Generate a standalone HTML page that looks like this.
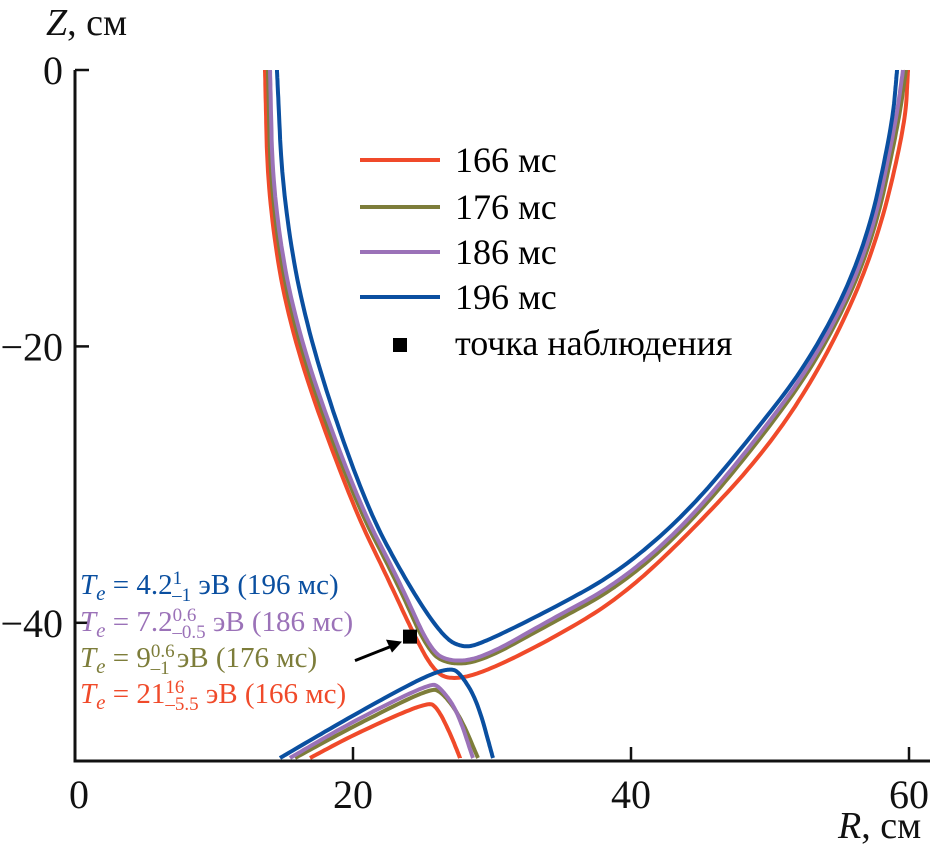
<!DOCTYPE html>
<html><head><meta charset="utf-8"><style>
body{margin:0;background:#fff}
svg{display:block}
svg text{font-family:"Liberation Serif","Noto Serif CJK SC","DejaVu Serif",serif}
</style></head><body>
<svg id="chart" width="934" height="850" viewBox="0 0 934 850">
<g id="axes"></g>
<g id="series"></g>
<g>
 <line x1="360" y1="160" x2="440" y2="160" stroke="#f04a2a" stroke-width="4"/>
 <text x="455" y="172" font-size="36">166 мс</text>
 <line x1="360" y1="207" x2="440" y2="207" stroke="#7d7d3a" stroke-width="4"/>
 <text x="455" y="219" font-size="36">176 мс</text>
 <line x1="360" y1="252" x2="440" y2="252" stroke="#9b72b8" stroke-width="4"/>
 <text x="455" y="264" font-size="36">186 мс</text>
 <line x1="360" y1="297" x2="440" y2="297" stroke="#0a4fa0" stroke-width="4"/>
 <text x="455" y="309" font-size="36">196 мс</text>
 <rect x="393" y="338" width="14" height="14" fill="#000"/>
 <text x="455" y="355" font-size="36">точка наблюдения</text>
</g>
<g font-size="29">
 <text x="80" y="594" fill="#0a4fa0"><tspan font-style="italic">T<tspan font-size="21" dy="6">e</tspan></tspan><tspan dy="-6"> = 4.2</tspan><tspan font-size="19" dy="-10">1</tspan><tspan font-size="19" dx="-10" dy="17">–1</tspan><tspan dy="-7"> эВ (196 мс)</tspan></text>
 <text x="80" y="631" fill="#9b72b8"><tspan font-style="italic">T<tspan font-size="21" dy="6">e</tspan></tspan><tspan dy="-6"> = 7.2</tspan><tspan font-size="19" dy="-10">0.6</tspan><tspan font-size="19" dx="-24" dy="17">–0.5</tspan><tspan dy="-7"> эВ (186 мс)</tspan></text>
 <text x="80" y="667" fill="#7d7d3a"><tspan font-style="italic">T<tspan font-size="21" dy="6">e</tspan></tspan><tspan dy="-6"> = 9</tspan><tspan font-size="19" dy="-10">0.6</tspan><tspan font-size="19" dx="-24" dy="17">–1</tspan><tspan dy="-7">  эВ (176 мс)</tspan></text>
 <text x="80" y="703" fill="#f04a2a"><tspan font-style="italic">T<tspan font-size="21" dy="6">e</tspan></tspan><tspan dy="-6"> = 21</tspan><tspan font-size="19" dy="-10">16</tspan><tspan font-size="19" dx="-19" dy="17">–5.5</tspan><tspan dy="-7"> эВ (166 мс)</tspan></text>
</g>
</svg>
<script>
const xTicks=[0,20,40,60];
const yTicks=[0,-20,-40];
const xTickLabels=["0","20","40","60"];
const yTickLabels=["0","\u221220","\u221240"];
const seriesNames=["166","176","186","196"];
const upper166R=[13.67,13.88,15.47,19.78,22.66,24.32,25.76,26.98,29.35,34.17,38.99,43.74,49.78,54.1,57.55,59.71,59.93];
const upper166Z=[0,-9.41,-19.03,-31.11,-37.12,-40.74,-43.42,-44.14,-43.63,-41.24,-38.35,-34.01,-27.5,-20.77,-13.02,-4.12,0];
const upper176R=[13.88,14.1,15.75,20.07,23.2,25.4,26.98,29.35,34.17,38.99,43.74,48.8,53.6,57.25,59.2,59.78];
const upper176Z=[0,-9.41,-19.03,-31.11,-37.12,-42.11,-43.05,-42.76,-40.09,-37.48,-33.36,-27.4,-20.77,-13.02,-4.12,0];
const upper186R=[14.03,14.25,15.95,20.29,23.4,25.54,26.98,29.35,34.17,38.99,43.74,48.5,53.4,57.1,59.0,59.57];
const upper186Z=[0,-9.41,-19.03,-31.11,-37.12,-41.97,-42.84,-42.55,-39.8,-37.19,-33.07,-27.4,-20.77,-13.02,-4.12,0];
const upper196R=[14.53,14.96,16.69,20.72,23.88,26.47,27.91,29.35,34.17,38.99,43.74,48.06,53.09,56.83,58.78,59.14];
const upper196Z=[0,-9.41,-19.03,-31.11,-37.12,-41.03,-41.82,-41.46,-39.07,-36.4,-32.34,-27.28,-20.77,-13.02,-4.12,0];
const lower166R=[16.91,20.29,25.32,26.04,26.98,27.7];
const lower166Z=[-49.78,-47.97,-45.73,-46.09,-47.97,-49.78];
const lower176R=[15.83,19.93,25.54,26.4,27.7,28.99];
const lower176Z=[-49.78,-47.54,-44.72,-45.01,-46.74,-49.78];
const lower186R=[15.47,19.78,25.54,26.26,27.48,28.63];
const lower186Z=[-49.78,-47.25,-44.36,-44.65,-46.31,-49.78];
const lower196R=[14.75,19.78,25.04,26.98,27.7,28.92,30.07];
const lower196Z=[-49.78,-46.82,-43.92,-43.27,-43.63,-45.59,-49.78];
const observationR=[24.1];
const observationZ=[-41.0];

const NS="http://www.w3.org/2000/svg";
const x0=75,xs=13.9,y0=70,ys=13.82;
function X(r){return x0+r*xs;}
function Y(z){return y0-z*ys;}
function mk(tag,attrs,parent){const e=document.createElementNS(NS,tag);for(const k in attrs)e.setAttribute(k,attrs[k]);parent.appendChild(e);return e;}
function smooth(R,Z){let p=R.map((r,i)=>[X(r),Y(Z[i])]);
 for(let it=0;it<4;it++){const q=[p[0]];
  for(let i=0;i<p.length-1;i++){const a=p[i],b=p[i+1];
   q.push([0.75*a[0]+0.25*b[0],0.75*a[1]+0.25*b[1]]);q.push([0.25*a[0]+0.75*b[0],0.25*a[1]+0.75*b[1]]);}
  q.push(p[p.length-1]);p=q;}
 return "M"+p.map(v=>v[0].toFixed(1)+","+v[1].toFixed(1)).join(" L");}
const axes=document.getElementById('axes');
const yaxis=mk('line',{x1:X(0),y1:Y(0),x2:X(0),y2:Y(-50),stroke:'#111','stroke-width':3},axes);


const xaxis=mk('line',{x1:X(0)-1.5,y1:Y(-50),x2:930,y2:Y(-50),stroke:'#111','stroke-width':3},axes);


xTicks.forEach((t,i)=>{
 if(t!==0){const l=mk('line',{x1:X(t),y1:Y(-50),x2:X(t),y2:Y(-50)-14,stroke:'#111','stroke-width':2.5},axes);
 
 }
 const tx=mk('text',{x:X(t)+(t===0?4:0),y:808,'font-size':40,'text-anchor':'middle',fill:'#111'},axes);tx.textContent=xTickLabels[i];
 
 
});
yTicks.forEach((t,i)=>{
 const l=mk('line',{x1:X(0),y1:Y(t),x2:X(0)+14,y2:Y(t),stroke:'#111','stroke-width':2.5},axes);
 
 
 const tx=mk('text',{x:63,y:Y(t)+14,'font-size':40,'text-anchor':'end',fill:'#111'},axes);tx.textContent=yTickLabels[i];
 
 
});
const yt=mk('text',{x:46,y:35,'font-size':38,fill:'#111'},axes);yt.innerHTML='<tspan font-style="italic">Z</tspan>, см';


const xt=mk('text',{x:838,y:838,'font-size':38,fill:'#111'},axes);xt.innerHTML='<tspan font-style="italic">R</tspan>, см';



const ser=document.getElementById('series');
const colors={"166":"#f04a2a","176":"#7d7d3a","186":"#9b72b8","196":"#0a4fa0"};
const data={"166":[upper166R,upper166Z,lower166R,lower166Z],"176":[upper176R,upper176Z,lower176R,lower176Z],"186":[upper186R,upper186Z,lower186R,lower186Z],"196":[upper196R,upper196Z,lower196R,lower196Z]};
seriesNames.forEach(n=>{const d=data[n];
 const u=mk('path',{d:smooth(d[0],d[1]),fill:'none',stroke:colors[n],'stroke-width':4,'stroke-linejoin':'round'},ser);
 
 
 const lo=mk('path',{d:smooth(d[2],d[3]),fill:'none',stroke:colors[n],'stroke-width':4,'stroke-linejoin':'round'},ser);
 
 
});
const px=X(observationR[0]),py=Y(observationZ[0]);
const arr=mk('path',{d:`M${px-55},${py+24} L${px-12},${py+7}`,stroke:'#000','stroke-width':3,fill:'none'},ser);


const head=mk('polygon',{points:`${px-8},${py+5} ${px-24},${py+3} ${px-18},${py+16}`,fill:'#000'},ser);


const pt=mk('rect',{x:px-7,y:py-7,width:14,height:14,fill:'#000'},ser);


</script>
</body></html>
